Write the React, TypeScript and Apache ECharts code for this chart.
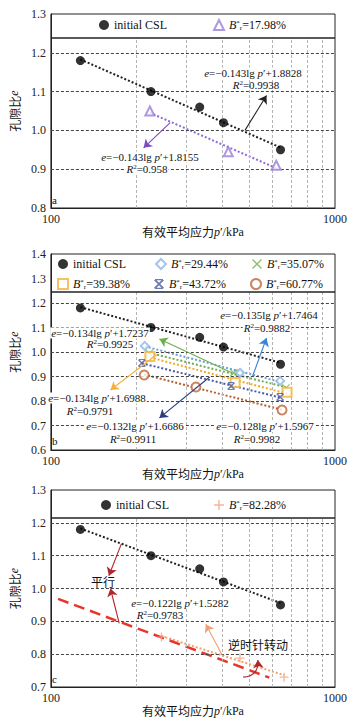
import React, { useEffect, useRef } from 'react';
import * as echarts from 'echarts';

const SERIF = 'Liberation Serif, DejaVu Serif, serif';
const CJK = 'Noto Sans CJK SC, sans-serif';

// ---------- data ----------
const cslP = [127, 225, 334, 405, 643];
const cslE = [1.18, 1.10, 1.06, 1.02, 0.95];

// panel a
const a1798P = [223, 421, 621];
const a1798E = [1.05, 0.945, 0.91];

// panel b
const b2944P = [214, 463, 641];
const b2944E = [1.025, 0.915, 0.882];
const b3507P = [222, 440, 672];
const b3507E = [0.995, 0.915, 0.853];
const b3938P = [223, 445, 678];
const b3938E = [0.982, 0.876, 0.836];
const b4372P = [209, 431, 641];
const b4372E = [0.955, 0.861, 0.816];
const b6077P = [213, 324, 651];
const b6077E = [0.906, 0.857, 0.763];

// panel c
const c8228P = [245, 463, 662];
const c8228E = [0.852, 0.788, 0.730];
const parallelP = [106, 587];
const parallelShift = 0.24;

// arrows [from, to] in data units
const arrowsA = [
  { from: [482, 1.0], to: [574, 1.09], color: '#222' },
  { from: [263, 1.02], to: [212, 0.955], color: '#7a4cc4' },
];
const arrowsB = [
  { from: [513, 0.902], to: [574, 1.057], color: '#3a86d6' },
  { from: [435, 0.914], to: [241, 1.053], color: '#6cae4c' },
  { from: [236, 0.99], to: [162, 0.845], color: '#f5b13a' },
  { from: [362, 0.898], to: [241, 0.731], color: '#2f3c7e' },
];
const arrowsC = [
  { from: [177, 1.136], to: [160, 1.039], color: '#b0262c', curve: 0 },
  { from: [174, 0.894], to: [162, 1.0], color: '#b0262c', curve: 0 },
  { from: [401, 0.797], to: [351, 0.891], color: '#f0a074', curve: 0 },
  { from: [475, 0.73], to: [535, 0.782], color: '#b0262c', curve: -0.5 },
];

const xMinorGrid = [200, 300, 400, 500, 600, 700, 800, 900];
const yGridA = [0.9, 1.0, 1.1, 1.2];
const yGridB = [0.7, 0.8, 0.9, 1.0, 1.1, 1.2];
const yGridC = [0.8, 0.9, 1.0, 1.1, 1.2];
const sepA = 1.24;
const sepB = 1.245;
const sepC = 1.215;

// ---------- helpers ----------
const PATH_X = 'path://M0,1L1,0L10,9L9,10ZM9,0L10,1L1,10L0,9Z';
const PATH_PLUS = 'path://M4.3,0L5.7,0L5.7,10L4.3,10ZM0,4.3L10,4.3L10,5.7L0,5.7Z';
const PATH_AST = 'path://M0,1.3L1.3,0L10,8.7L8.7,10ZM8.7,0L10,1.3L1.3,10L0,8.7ZM1,0L9,0L9,1.3L1,1.3ZM1,8.7L9,8.7L9,10L1,10Z';

function lsFit(P: number[], E: number[]) {
  const x = P.map((p) => Math.log(p));
  const n = x.length;
  const mx = x.reduce((s, v) => s + v, 0) / n;
  const my = E.reduce((s, v) => s + v, 0) / n;
  let sxy = 0;
  let sxx = 0;
  for (let i = 0; i < n; i++) {
    sxy += (x[i] - mx) * (E[i] - my);
    sxx += (x[i] - mx) * (x[i] - mx);
  }
  const k = sxy / sxx;
  return { k, b: my - k * mx };
}

function fitLine(P: number[], E: number[], ends?: number[], shift = 0) {
  const { k, b } = lsFit(P, E);
  const e = ends || [P[0], P[P.length - 1]];
  return e.map((p) => [p, k * Math.log(p) + b - shift]);
}

function zip(P: number[], E: number[]) {
  return P.map((p, i) => [p, E[i]]);
}

function makeRich(size: number) {
  return {
    n: { fontFamily: SERIF, fontSize: size, color: '#111' },
    i: { fontFamily: SERIF, fontStyle: 'italic', fontSize: size, color: '#111' },
    sup: { fontFamily: SERIF, fontSize: Math.round(size * 0.6), verticalAlign: 'top', color: '#111' },
    sub: { fontFamily: SERIF, fontSize: Math.round(size * 0.6), verticalAlign: 'bottom', color: '#111' },
    cn: { fontFamily: CJK, fontSize: size, color: '#111' },
  };
}
const richStyles = makeRich(12);
const richSmall = makeRich(11);

function scatter(name: string, idx: number, P: number[], E: number[], symbol: string, size: number, color: string, empty = false) {
  return {
    type: 'scatter',
    name,
    xAxisIndex: idx,
    yAxisIndex: idx,
    symbol,
    symbolSize: size,
    z: 5,
    itemStyle: empty ? { color, borderWidth: 1.3 } : { color },
    data: zip(P, E),
  };
}

function trend(idx: number, pts: number[][], color: string, type: any = [2, 2], width = 2) {
  return {
    type: 'line',
    name: 'fit',
    xAxisIndex: idx,
    yAxisIndex: idx,
    symbol: 'none',
    z: 4,
    lineStyle: { color, width, type },
    data: pts,
  };
}

function arrows(idx: number, list: any[]) {
  return list.map((a) => ({
    type: 'lines',
    coordinateSystem: 'cartesian2d',
    xAxisIndex: idx,
    yAxisIndex: idx,
    symbol: ['none', 'arrow'],
    symbolSize: 8,
    z: 6,
    lineStyle: { color: a.color, width: 1.1, opacity: 1, curveness: a.curve || 0 },
    data: [{ coords: [a.from, a.to] }],
  }));
}

function frame(idx: number, ymin: number, sep: number, yGrid: number[]) {
  const data: any[] = [];
  xMinorGrid.forEach((v) => {
    data.push([
      { coord: [v, ymin], lineStyle: { color: '#b5b5b5', width: 1, type: [3, 2] } },
      { coord: [v, sep] },
    ]);
  });
  yGrid.forEach((v) => {
    data.push([
      { coord: [100, v], lineStyle: { color: '#444', width: 1, type: [3, 2] } },
      { coord: [1000, v] },
    ]);
  });
  data.push([
    { coord: [100, sep], lineStyle: { color: '#222', width: 1.5, type: 'solid' } },
    { coord: [1000, sep] },
  ]);
  return {
    type: 'line',
    name: 'frame',
    xAxisIndex: idx,
    yAxisIndex: idx,
    data: [],
    z: 1,
    markLine: { silent: true, symbol: ['none', 'none'], label: { show: false }, data },
  };
}

function legendName(name: string) {
  if (name.startsWith('B*r')) {
    return '{i|B}{sup|*}{sub|r}{n|' + name.slice(3) + '}';
  }
  return '{n|' + name + '}';
}

function legendItem(name: string, left: number, top: number) {
  return {
    data: [name],
    left,
    top,
    padding: 0,
    itemWidth: 10,
    itemHeight: 10,
    itemGap: 4,
    selectedMode: false,
    formatter: legendName,
    textStyle: { fontFamily: SERIF, fontSize: 12, color: '#111', rich: richStyles },
  };
}

function txt(text: string, x: number, y: number, align = 'center', bg = true, rich: any = richSmall) {
  return {
    type: 'text',
    x,
    y,
    z: 100,
    style: {
      text,
      fill: '#111',
      fontFamily: SERIF,
      fontSize: 11,
      align,
      verticalAlign: 'middle',
      rich,
      backgroundColor: bg ? '#fff' : undefined,
      padding: bg ? [0, 1] : 0,
    },
  };
}

function eq(k: string, b: string) {
  return '{i|e}{n|=\u2212' + k + 'lg }{i|p}{n|\u2032+' + b + '}';
}
function r2(v: string) {
  return '{i|R}{sup|2}{n|=' + v + '}';
}

const xAxisCommon = {
  type: 'log',
  logBase: 10,
  min: 100,
  max: 1000,
  axisLine: { show: true, lineStyle: { color: '#222', width: 1 } },
  axisTick: { show: false },
  splitLine: { show: false },
  axisLabel: {
    fontFamily: SERIF,
    fontSize: 12,
    color: '#222',
    margin: 5,
    formatter: (v: number) => String(Math.round(v)),
  },
  name: '{cn|\u6709\u6548\u5e73\u5747\u5e94\u529b}{i|p}{n|\u2032/kPa}',
  nameLocation: 'middle',
  nameTextStyle: { fontFamily: CJK, fontSize: 12, color: '#222', rich: richStyles },
};

const yAxisCommon = {
  type: 'value',
  interval: 0.1,
  axisLine: { show: true, lineStyle: { color: '#222', width: 1 } },
  axisTick: { show: false },
  splitLine: { show: false },
  axisLabel: {
    fontFamily: SERIF,
    fontSize: 12,
    color: '#222',
    margin: 5,
    formatter: (v: number) => v.toFixed(1),
  },
  name: '{cn|\u5b54\u9699\u6bd4}{i|e}',
  nameLocation: 'middle',
  nameRotate: 90,
  nameGap: 26,
  nameTextStyle: { fontFamily: CJK, fontSize: 12, color: '#222', rich: richStyles },
};

export default function App() {
  const ref = useRef<HTMLDivElement>(null);

  useEffect(() => {
    if (!ref.current) return;
    const chart = echarts.init(ref.current, null, { renderer: 'svg' });

    const option: any = {
      animation: false,
      backgroundColor: '#fff',
      textStyle: { fontFamily: SERIF },
      grid: [
        { left: 44, top: 14, width: 291, height: 194, show: true, borderColor: '#222', borderWidth: 1 },
        { left: 44, top: 254, width: 291, height: 196, show: true, borderColor: '#222', borderWidth: 1 },
        { left: 44, top: 490, width: 291, height: 197, show: true, borderColor: '#222', borderWidth: 1 },
      ],
      xAxis: [
        { ...xAxisCommon, gridIndex: 0, nameGap: 16 },
        { ...xAxisCommon, gridIndex: 1, nameGap: 14 },
        { ...xAxisCommon, gridIndex: 2, nameGap: 15 },
      ],
      yAxis: [
        { ...yAxisCommon, gridIndex: 0, min: 0.8, max: 1.3 },
        { ...yAxisCommon, gridIndex: 1, min: 0.6, max: 1.4 },
        { ...yAxisCommon, gridIndex: 2, min: 0.7, max: 1.3 },
      ],
      legend: [
        legendItem('initial CSL', 99, 19),
        legendItem('B*r=17.98%', 213, 19),
        legendItem('initial CSL', 58, 258),
        legendItem('B*r=29.44%', 155, 258),
        legendItem('B*r=35.07%', 252, 258),
        legendItem('B*r=39.38%', 57, 278),
        legendItem('B*r=43.72%', 154, 278),
        legendItem('B*r=60.77%', 250, 278),
        legendItem('initial CSL', 101, 499),
        legendItem('B*r=82.28%', 214, 499),
      ],
      series: [
        // panel a
        frame(0, 0.8, sepA, yGridA),
        trend(0, fitLine(cslP, cslE), '#222'),
        trend(0, fitLine(a1798P, a1798E), '#8c6bd9'),
        scatter('initial CSL', 0, cslP, cslE, 'circle', 9, '#000'),
        scatter('B*r=17.98%', 0, a1798P, a1798E, 'emptyTriangle', 9, '#9b7fd6', true),
        ...arrows(0, arrowsA),
        // panel b
        frame(1, 0.6, sepB, yGridB),
        trend(1, fitLine(cslP, cslE), '#222'),
        trend(1, fitLine(b2944P, b2944E), '#6a9fdc'),
        trend(1, fitLine(b3507P, b3507E), '#6fb04a'),
        trend(1, fitLine(b3938P, b3938E), '#f4a92a'),
        trend(1, fitLine(b4372P, b4372E), '#4b5aa0'),
        trend(1, fitLine(b6077P, b6077E), '#b85c28'),
        scatter('initial CSL', 1, cslP, cslE, 'circle', 9, '#000'),
        scatter('B*r=29.44%', 1, b2944P, b2944E, 'emptyDiamond', 8, '#8fb6e6', true),
        scatter('B*r=35.07%', 1, b3507P, b3507E, PATH_X, 8, '#6fb04a'),
        scatter('B*r=39.38%', 1, b3938P, b3938E, 'emptyRect', 9, '#f5b13a', true),
        scatter('B*r=43.72%', 1, b4372P, b4372E, PATH_AST, 8, '#4b5aa0'),
        scatter('B*r=60.77%', 1, b6077P, b6077E, 'emptyCircle', 9, '#c0673a', true),
        ...arrows(1, arrowsB),
        // panel c
        frame(2, 0.7, sepC, yGridC),
        trend(2, fitLine(cslP, cslE), '#222'),
        trend(2, fitLine(c8228P, c8228E), '#f5a06c'),
        trend(2, fitLine(cslP, cslE, parallelP, parallelShift), '#e8352c', [11, 6], 2.5),
        scatter('initial CSL', 2, cslP, cslE, 'circle', 9, '#000'),
        scatter('B*r=82.28%', 2, c8228P, c8228E, PATH_PLUS, 9, '#f4a07a'),
        ...arrows(2, arrowsC),
      ],
      graphic: [
        // panel a
        txt(eq('0.143', '1.8828'), 253, 73),
        txt(r2('0.9938'), 256, 85, 'center', false),
        txt(eq('0.143', '1.8155'), 150, 157),
        txt(r2('0.958'), 147, 169),
        txt('{n|a}', 52, 200, 'left', false),
        // panel b
        txt(eq('0.135', '1.7464'), 269, 315),
        txt(r2('0.9882'), 267, 328),
        txt(eq('0.134', '1.7237'), 100, 333),
        txt(r2('0.9925'), 110, 344),
        txt(eq('0.134', '1.6988'), 97, 398),
        txt(r2('0.9791'), 90, 411),
        txt(eq('0.132', '1.6686'), 135, 426),
        txt(r2('0.9911'), 133, 439),
        txt(eq('0.128', '1.5967'), 265, 426),
        txt(r2('0.9982'), 257, 439),
        txt('{n|b}', 52, 441, 'left', false),
        // panel c
        txt('{cn|\u5e73\u884c}', 103, 581, 'center', false, richStyles),
        txt(eq('0.122', '1.5282'), 180, 603),
        txt(r2('0.9783'), 160, 615),
        txt('{cn|\u9006\u65f6\u9488\u8f6c\u52a8}', 258, 644, 'center', false, richStyles),
        txt('{n|c}', 52, 679, 'left', false),
      ],
    };

    chart.setOption(option);
    return () => chart.dispose();
  }, []);

  return (
    <div
      ref={ref}
      style={{ position: 'absolute', left: 0, top: 0, width: 355, height: 720, background: '#fff' }}
    />
  );
}
